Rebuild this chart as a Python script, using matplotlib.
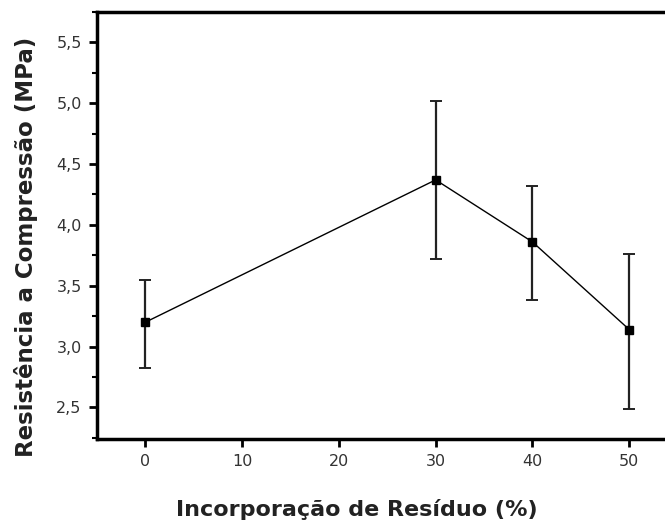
import matplotlib
matplotlib.use("Agg")
import matplotlib.pyplot as plt
from matplotlib.ticker import FuncFormatter, MultipleLocator

# Data
residuo = [0, 30, 40, 50]
resistencia = [3.20, 4.37, 3.86, 3.14]
erro_sup = [3.55, 5.02, 4.32, 3.76]
erro_inf = [2.82, 3.72, 3.38, 2.49]

err_low = [r - lo for r, lo in zip(resistencia, erro_inf)]
err_high = [hi - r for r, hi in zip(resistencia, erro_sup)]

fig = plt.figure(figsize=(6.65, 5.24), dpi=100)
ax = fig.add_axes([97 / 665, (524 - 439) / 524, (665 - 97) / 665, (439 - 12) / 524])

ax.errorbar(residuo, resistencia, yerr=[err_low, err_high], fmt="s-",
            color="black", ecolor="#222222", elinewidth=1.6, capsize=4,
            capthick=1.4, markersize=6, linewidth=1.0)

ax.set_xlim(-5, 53.7)
ax.set_ylim(2.24, 5.75)
ax.set_xticks([0, 10, 20, 30, 40, 50])
ax.yaxis.set_major_locator(MultipleLocator(0.5))
ax.yaxis.set_minor_locator(MultipleLocator(0.25))
ax.yaxis.set_major_formatter(FuncFormatter(lambda v, p: f"{v:.1f}".replace(".", ",")))

for side in ["left", "bottom", "top"]:
    ax.spines[side].set_linewidth(2.5)
ax.spines["right"].set_visible(False)

ax.tick_params(axis="both", which="major", direction="out", length=6, width=2,
               labelsize=11.5, labelcolor="#333333", pad=5)
ax.tick_params(axis="y", which="minor", direction="out", length=3.5, width=1.5)

ax.set_xlabel("Incorporação de Resíduo (%)", fontsize=16, fontweight="bold",
              color="#222222")
ax.set_ylabel("Resistência a Compressão (MPa)", fontsize=16.5, fontweight="bold",
              color="#222222")
ax.xaxis.set_label_coords((357 - 97) / 568, (439 - 499) / 427)
ax.yaxis.set_label_coords((38 - 97) / 568, (439 - 247) / 427)

fig.savefig("out.png", dpi=100)
